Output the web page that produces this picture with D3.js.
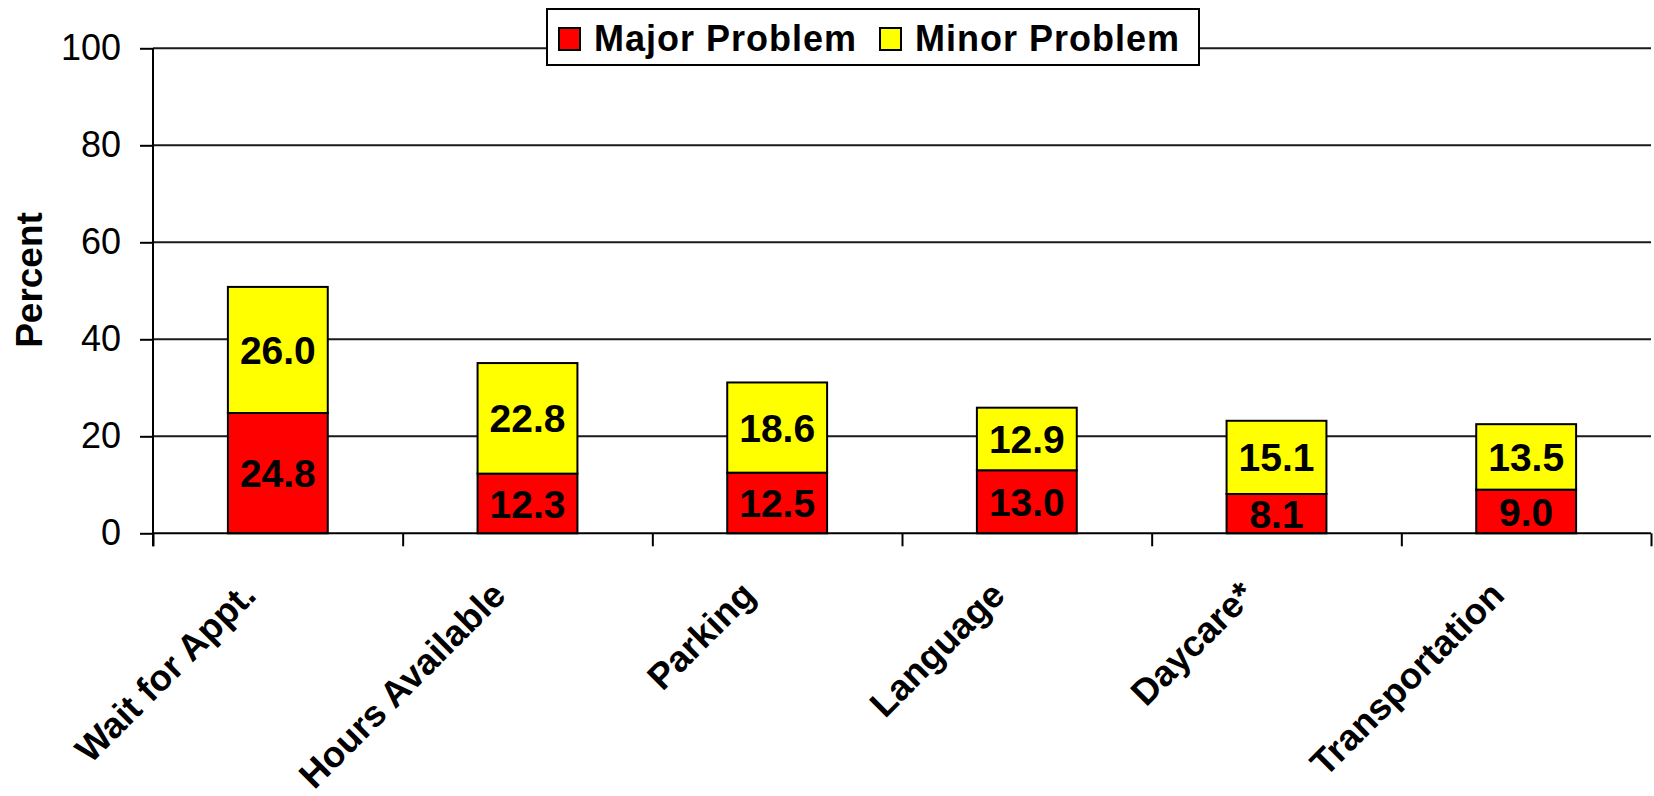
<!DOCTYPE html>
<html>
<head>
<meta charset="utf-8">
<script src="https://cdn.jsdelivr.net/npm/d3@7"></script>
<style>
  html, body { margin: 0; padding: 0; background: #fff; }
  svg { display: block; font-family: Arial, "Liberation Sans", sans-serif; }
</style>
</head>
<body>
<svg id="chart" width="1654" height="796"></svg>
<script>
const categories = ["Wait for Appt.", "Hours Available", "Parking", "Language", "Daycare*", "Transportation"];
const majorValues = [24.8, 12.3, 12.5, 13.0, 8.1, 9.0];
const minorValues = [26.0, 22.8, 18.6, 12.9, 15.1, 13.5];
const seriesNames = ["Major Problem", "Minor Problem"];
const seriesColors = ["#ff0000", "#ffff00"];
const yTicks = [0, 20, 40, 60, 80, 100];

const svg = d3.select("#chart");
const plotLeft = 153, plotRight = 1651, plotBottom = 533.3, plotTop = 48.3;

const x = d3.scaleBand().domain(categories).range([plotLeft, plotRight]).paddingInner(0.6).paddingOuter(0.3);
const xEdges = d3.scaleLinear().domain([0, categories.length]).range([plotLeft, plotRight]);
const y = d3.scaleLinear().domain([0, 100]).range([plotBottom, plotTop]);

// gridlines
svg.append("g").selectAll("line").data(yTicks.filter(d => d > 0)).join("line")
  .attr("x1", plotLeft).attr("x2", plotRight)
  .attr("y1", d => y(d)).attr("y2", d => y(d))
  .attr("stroke", "#1a1a1a").attr("stroke-width", 2);

// stacked data
const rows = categories.map((c, i) => ({cat: c, major: majorValues[i], minor: minorValues[i]}));
const stack = d3.stack().keys(["major", "minor"])(rows);

const gBars = svg.append("g");
stack.forEach((layer, li) => {
  gBars.append("g").selectAll("rect").data(layer).join("rect")
    .attr("x", d => x(d.data.cat))
    .attr("width", x.bandwidth())
    .attr("y", d => y(d[1]))
    .attr("height", d => y(d[0]) - y(d[1]))
    .attr("fill", seriesColors[li])
    .attr("stroke", "#000").attr("stroke-width", 2);
});

// value labels
stack.forEach((layer) => {
  svg.append("g").selectAll("text").data(layer).join("text")
    .attr("x", d => x(d.data.cat) + x.bandwidth() / 2)
    .attr("y", d => (y(d[0]) + y(d[1])) / 2)
    .attr("dy", "0.36em")
    .attr("text-anchor", "middle")
    .attr("font-size", 39).attr("font-weight", "bold")
    .text(d => (d[1] - d[0]).toFixed(1));
});

// y axis
const yAxis = d3.axisLeft(y).tickValues(yTicks).tickSize(13).tickPadding(19).tickFormat(d3.format("d"));
const gy = svg.append("g").attr("transform", `translate(${plotLeft},0)`).call(yAxis);
gy.select(".domain").remove();
gy.selectAll(".tick line").attr("stroke", "#000").attr("stroke-width", 2);
gy.selectAll(".tick text").attr("font-size", 36).attr("fill", "#000")
  .attr("font-family", "Arial, 'Liberation Sans', sans-serif");
svg.append("line").attr("x1", plotLeft).attr("x2", plotLeft).attr("y1", plotTop).attr("y2", plotBottom + 13)
  .attr("stroke", "#000").attr("stroke-width", 2);

// x axis
const xAxis = d3.axisBottom(xEdges).tickValues(d3.range(categories.length + 1)).tickSize(13).tickFormat("");
const gx = svg.append("g").attr("transform", `translate(0,${plotBottom})`).call(xAxis);
gx.select(".domain").attr("stroke", "#000").attr("stroke-width", 2).attr("d", `M${plotLeft},0H${plotRight}`);
gx.selectAll(".tick line").attr("stroke", "#000").attr("stroke-width", 2);

// category labels
svg.append("g").selectAll("text").data(categories).join("text")
  .attr("transform", d => `translate(${x(d) + x.bandwidth() / 2 - 20},${plotBottom + 64}) rotate(-45)`)
  .attr("text-anchor", "end")
  .attr("font-size", 36.5).attr("font-weight", "bold")
  .text(d => d);

// y title
svg.append("text")
  .attr("transform", `translate(42,280) rotate(-90)`)
  .attr("text-anchor", "middle")
  .attr("font-size", 37).attr("font-weight", "bold")
  .text("Percent");

// legend
const lg = svg.append("g");
lg.append("rect").attr("x", 547).attr("y", 9).attr("width", 652).attr("height", 56)
  .attr("fill", "#fff").attr("stroke", "#000").attr("stroke-width", 2);
const legendX = [559, 880];
seriesNames.forEach((name, i) => {
  lg.append("rect").attr("x", legendX[i]).attr("y", 28).attr("width", 21).attr("height", 22)
    .attr("fill", seriesColors[i]).attr("stroke", "#000").attr("stroke-width", 2);
  lg.append("text").attr("x", legendX[i] + 35).attr("y", 51)
    .attr("font-size", 36).attr("font-weight", "bold").attr("letter-spacing", 1)
    .text(name);
});
</script>
</body>
</html>
